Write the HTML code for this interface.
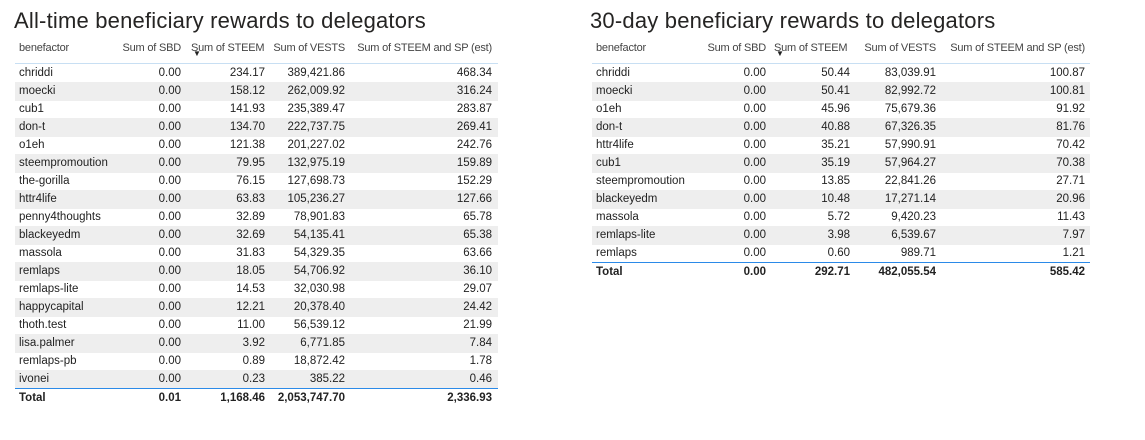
<!DOCTYPE html>
<html><head><meta charset="utf-8"><style>
body{margin:0;width:1145px;height:440px;background:#fff;font-family:"Liberation Sans",sans-serif;color:#222;position:relative;overflow:hidden}
.t{position:absolute;font-size:22px;color:#252423;top:8px;letter-spacing:0.2px}
.c{position:absolute;font-size:11.5px;white-space:nowrap;line-height:18px;height:18px}
.h{font-size:11px;letter-spacing:-0.2px}
.r{text-align:right}
.bg{position:absolute;height:18px;background:#eeeeee}
.ln{position:absolute;height:1px}
</style></head><body>
<div class="t" style="left:14px">All-time beneficiary rewards to delegators</div>
<div class="t" style="left:590px">30-day beneficiary rewards to delegators</div>
<div id="root"></div>
<script>
const allNames=["chriddi","moecki","cub1","don-t","o1eh","steempromoution","the-gorilla","httr4life","penny4thoughts","blackeyedm","massola","remlaps","remlaps-lite","happycapital","thoth.test","lisa.palmer","remlaps-pb","ivonei"];
const allSBD=["0.00","0.00","0.00","0.00","0.00","0.00","0.00","0.00","0.00","0.00","0.00","0.00","0.00","0.00","0.00","0.00","0.00","0.00"];
const allSTEEM=["234.17","158.12","141.93","134.70","121.38","79.95","76.15","63.83","32.89","32.69","31.83","18.05","14.53","12.21","11.00","3.92","0.89","0.23"];
const allVESTS=["389,421.86","262,009.92","235,389.47","222,737.75","201,227.02","132,975.19","127,698.73","105,236.27","78,901.83","54,135.41","54,329.35","54,706.92","32,030.98","20,378.40","56,539.12","6,771.85","18,872.42","385.22"];
const allEst=["468.34","316.24","283.87","269.41","242.76","159.89","152.29","127.66","65.78","65.38","63.66","36.10","29.07","24.42","21.99","7.84","1.78","0.46"];
const allTotal=["Total","0.01","1,168.46","2,053,747.70","2,336.93"];
const dNames=["chriddi","moecki","o1eh","don-t","httr4life","cub1","steempromoution","blackeyedm","massola","remlaps-lite","remlaps"];
const dSBD=["0.00","0.00","0.00","0.00","0.00","0.00","0.00","0.00","0.00","0.00","0.00"];
const dSTEEM=["50.44","50.41","45.96","40.88","35.21","35.19","13.85","10.48","5.72","3.98","0.60"];
const dVESTS=["83,039.91","82,992.72","75,679.36","67,326.35","57,990.91","57,964.27","22,841.26","17,271.14","9,420.23","6,539.67","989.71"];
const dEst=["100.87","100.81","91.92","81.76","70.42","70.38","27.71","20.96","11.43","7.97","1.21"];
const dTotal=["Total","0.00","292.71","482,055.54","585.42"];
const root=document.getElementById('root');
function el(cls,style,txt){const d=document.createElement('div');d.className=cls;d.style.cssText=style;if(txt!==undefined)d.textContent=txt;root.appendChild(d);return d;}
function table(prefix,x0,x1,nameX,rights,steemLeft,names,cols,total){
  const hdr=["Sum of SBD","Sum of STEEM","Sum of VESTS","Sum of STEEM and SP (est)"];
  let h=el('c h',`left:${nameX}px;top:39px;color:#444`,'benefactor');
  
  hdr.forEach((t,i)=>{let s;
    if(i==1) s=el('c h',`left:${steemLeft}px;top:39px;color:#444`,t);
    else s=el('c h r',`right:${1145-rights[i]}px;top:39px;color:#444`,t);
    
    });
  let a=el('c',`left:${steemLeft+2}px;top:50px;font-size:8px;line-height:8px;height:8px`,'▼');
  
  let hl=el('ln',`left:${x0}px;width:${x1-x0}px;top:63px;background:#c8dff3`);
  
  names.forEach((n,i)=>{const y=64+i*18;
    if(i%2==1){const b=el('bg',`left:${x0}px;width:${x1-x0}px;top:${y}px`);}
    else if(i>0){const l=el('ln',`left:${x0}px;width:${x1-x0}px;top:${y}px;background:#eeeeee`);}
    const nm=el('c',`left:${nameX}px;top:${y}px`,n);
    
    cols.forEach((c,j)=>{const v=el('c r',`right:${1145-rights[j]}px;top:${y}px`,c[i]);
      });
  });
  const ty=64+names.length*18;
  const tl=el('ln',`left:${x0}px;width:${x1-x0}px;top:${ty}px;background:#2b8ae8`);
  
  const tn=el('c',`left:${nameX}px;top:${ty+1}px;font-weight:bold`,total[0]);
  
  for(let j=1;j<5;j++){const v=el('c r',`right:${1145-rights[j-1]}px;top:${ty+1}px;font-weight:bold`,total[j]);
    }
}
table('all-time',15,498,19,[181,265,345,492],191,allNames,[allSBD,allSTEEM,allVESTS,allEst],allTotal);
table('30-day',592,1090,596,[766,850,936,1085],774,dNames,[dSBD,dSTEEM,dVESTS,dEst],dTotal);
</script>
</body></html>
